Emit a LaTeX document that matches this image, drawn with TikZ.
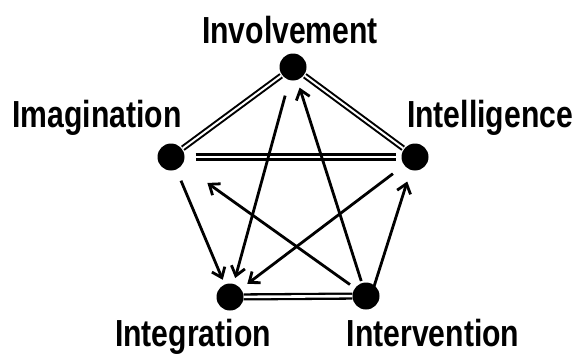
\documentclass[tikz,border=0pt]{standalone}
\usepackage{fontspec}
\newfontfamily\lblfont[FakeStretch=0.8]{Liberation Sans Bold}
\usetikzlibrary{arrows.meta}
\begin{document}
\begin{tikzpicture}[x=1pt,y=-1pt,
  dot/.style={circle,fill=black,inner sep=0pt,minimum size=27pt},
  lbl/.style={anchor=base,inner sep=0pt,font=\lblfont\fontsize{37.7}{40}\selectfont},
  dbl/.style={draw=black,line width=2pt,double=white,double distance=2pt},
  dblh/.style={draw=black,line width=2.3pt,double=white,double distance=2.6pt},
  arr/.style={draw=black,line width=2.8pt,-{Straight Barb[length=9pt,width=14pt,line width=2.8pt]}}]
\useasboundingbox (0,0) rectangle (579,356);
\node[dot] (inv) at (293,67) {};
\node[dot] (ima) at (171,157) {};
\node[dot] (itl) at (415,157) {};
\node[dot] (itg) at (230,297) {};
\node[dot] (itv) at (366,296) {};
\node[lbl] (tinv) at (290,43) {Involvement};
\node[lbl] (tima) at (97,127) {Imagination};
\node[lbl] (titl) at (490,127) {Intelligence};
\node[lbl] (titg) at (193,346) {Integration};
\node[lbl] (titv) at (433,346) {Intervention};
% double links
\draw[dbl,shorten <=1pt,shorten >=1pt] (ima) -- (inv);
\draw[dbl,shorten <=1pt,shorten >=1pt] (inv) -- (itl);
\draw[dblh] ([xshift=11pt]ima.east) -- ([xshift=-5pt]itl.west);
\draw[dblh] (itg) -- (itv);
% arrows
\draw[arr,shorten <=12pt,shorten >=5pt] (ima) -- (itg);
\draw[arr,shorten <=16pt,shorten >=6pt] (inv) -- (itg);
\draw[arr,shorten <=14pt,shorten >=8pt] (itl) -- (itg);
\draw[arr,shorten <=6pt,shorten >=31pt] (itv) -- (ima);
\draw[arr,shorten <=2pt,shorten >=8pt] (itv) -- (inv);
\draw[arr,shorten <=6pt,shorten >=12pt] ([xshift=5pt]itv.center) -- (itl);
\end{tikzpicture}
\end{document}
